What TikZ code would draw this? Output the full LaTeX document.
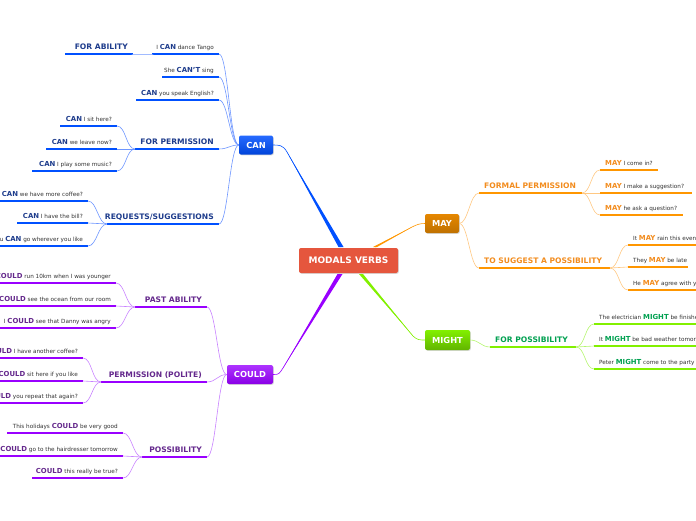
\documentclass[tikz,border=0pt]{standalone}
\usepackage{fontspec}
\setmainfont{DejaVu Sans}
\usetikzlibrary{shadows,calc}
\definecolor{cmain}{RGB}{229,86,61}
\definecolor{ccan}{RGB}{0,80,255}
\definecolor{ccanl}{RGB}{110,150,255}
\definecolor{ccant}{RGB}{30,60,140}
\definecolor{ccould}{RGB}{153,0,255}
\definecolor{ccouldl}{RGB}{200,130,255}
\definecolor{ccouldt}{RGB}{100,40,140}
\definecolor{cmay}{RGB}{255,150,0}
\definecolor{cmayl}{RGB}{255,200,130}
\definecolor{cmayt}{RGB}{242,140,30}
\definecolor{cmight}{RGB}{130,240,0}
\definecolor{cmightl}{RGB}{180,245,110}
\definecolor{cmightt}{RGB}{0,160,80}
\definecolor{ctxt}{RGB}{50,50,50}
\newcommand\kw[2]{{\fontsize{6.9}{8}\selectfont\bfseries\color{#1}#2}}

\begin{document}
\begin{tikzpicture}[x=1pt,y=-1pt,
  box/.style={rounded corners=2pt,inner sep=0pt,text=white,font=\fontsize{8.3}{10}\selectfont\bfseries,
    drop shadow={opacity=0.3,shadow xshift=0.8pt,shadow yshift=-0.8pt}},
  leaf/.style={inner sep=0pt,text=ctxt,font=\fontsize{5.7}{7}\selectfont},
  sub/.style={inner sep=0pt,font=\fontsize{7.6}{9}\selectfont\bfseries},
  und/.style={draw=#1,line width=2pt},
  subund/.style={draw=#1,line width=2.5pt},
  lnk/.style={draw=#1,line width=0.6pt},
]
\useasboundingbox (0,0) rectangle (696,520);
\clip (0,0) rectangle (696,520);

% ---------------- central topic and main branches ----------------
\node[box,fill=cmain,minimum width=99pt,minimum height=25pt,font=\fontsize{9}{11}\selectfont\bfseries] (mv) at (348.5,260.5) {MODALS VERBS};
\node[box,top color=ccan!85!white,bottom color=ccan!85!black,minimum width=34pt,minimum height=19pt] (can) at (256,145) {CAN};
\node[box,top color=cmay!90!black,bottom color=cmay!75!black,minimum width=34pt,minimum height=19pt] (may) at (442,223.5) {MAY};
\node[box,top color=cmight,bottom color=cmight!75!black,minimum width=45pt,minimum height=20pt] (might) at (447.5,340) {MIGHT};
\node[box,top color=ccould!80!white,bottom color=ccould!90!black,minimum width=46pt,minimum height=19pt] (could) at (250,374.5) {COULD};

% tapered links from the centre
\coordinate (mv-can) at (341,247);   \coordinate (can-k) at (287,152);
\coordinate (mv-could) at (340,274); \coordinate (could-k) at (283,368);
\coordinate (mv-may) at (375,247);   \coordinate (may-k) at (412,227);
\coordinate (mv-might) at (361,274); \coordinate (might-k) at (413,336);
\fill[ccan] ($(mv-can)+(-2.5,0)$) -- (can-k) -- ($(mv-can)+(2.5,0)$) -- cycle;
\draw[lnk=ccan] (mv-can) -- (can-k) .. controls +(-4,-7) and +(6,0) .. (can.east);
\fill[ccould] ($(mv-could)+(-2.5,0)$) -- (could-k) -- ($(mv-could)+(2.5,0)$) -- cycle;
\draw[lnk=ccould] (mv-could) -- (could-k) .. controls +(-4,6) and +(6,0) .. (could.east);
\fill[cmay] ($(mv-may)+(-2,0)$) -- (may-k) -- ($(mv-may)+(2,0)$) -- cycle;
\draw[lnk=cmay] (mv-may) -- (may-k) .. controls +(5,-2.5) and +(-5,0) .. (may.west);
\fill[cmight] ($(mv-might)+(-2,0)$) -- (might-k) -- ($(mv-might)+(2,0)$) -- cycle;
\draw[lnk=cmight] (mv-might) -- (might-k) .. controls +(4,4) and +(-5,0) .. (might.west);

% ---------------- subtopics ----------------
% left side: text set flush right
\foreach \n/\c/\k/\xa/\xb/\y/\t in {
  ab/ccan/ccant/65/133/54/{FOR ABILITY},
  per/ccan/ccant/135/219/149/{FOR PERMISSION},
  req/ccan/ccant/107/219/224/{REQUESTS/SUGGESTIONS},
  pa/ccould/ccouldt/135/207/307/{PAST ABILITY},
  pp/ccould/ccouldt/101/207/382/{PERMISSION (POLITE)},
  po/ccould/ccouldt/142/207/457/{POSSIBILITY}}{
  \draw[subund=\c] (\xa,\y) coordinate (\n-l) -- (\xb,\y) coordinate (\n-r);
  \node[sub,text=\k,anchor=base east] (\n) at (\xb-5,\y-5) {\t};
}
% right side: text set flush left
\foreach \n/\c/\k/\xa/\xb/\y/\t in {
  fp/cmay/cmayt/479/582/193/{FORMAL PERMISSION},
  sp/cmay/cmayt/479/610/268/{TO SUGGEST A POSSIBILITY},
  fo/cmight/cmightt/490/576/347/{FOR POSSIBILITY}}{
  \draw[subund=\c] (\xa,\y) coordinate (\n-l) -- (\xb,\y) coordinate (\n-r);
  \node[sub,text=\k,anchor=base west] (\n) at (\xa+5,\y-5) {\t};
}

% ---------------- example sentences ----------------
\foreach \n/\c/\xa/\xb/\y/\t in {
  a1/ccan/152/219/54/{I \kw{ccant}{CAN} dance Tango},
  a2/ccan/162/219/77/{She \kw{ccant}{CAN'T} sing},
  a3/ccan/136/219/100/{\kw{ccant}{CAN} you speak English?},
  p1/ccan/60/117/126/{\kw{ccant}{CAN} I sit here?},
  p2/ccan/46/117/149/{\kw{ccant}{CAN} we leave now?},
  p3/ccan/32/117/171/{\kw{ccant}{CAN} I play some music?},
  r1/ccan/-5/88/201/{\kw{ccant}{CAN} we have more coffee?},
  r2/ccan/17/88/223/{\kw{ccant}{CAN} I have the bill?},
  r3/ccan/-5/88/246/{You \kw{ccant}{CAN} go wherever you like},
  c1/ccould/-5/116/283/{I \kw{ccouldt}{COULD} run 10km when I was younger},
  c2/ccould/-5/116/306/{We \kw{ccouldt}{COULD} see the ocean from our room},
  c3/ccould/-5/116/328/{I \kw{ccouldt}{COULD} see that Danny was angry},
  d1/ccould/-5/83/358/{\kw{ccouldt}{COULD} I have another coffee?},
  d2/ccould/-5/83/381/{\kw{ccouldt}{COULD} sit here if you like},
  d3/ccould/-5/83/403/{\kw{ccouldt}{COULD} you repeat that again?},
  e1/ccould/7/123/433/{This holidays \kw{ccouldt}{COULD} be very good},
  e2/ccould/-5/123/456/{\kw{ccouldt}{COULD} go to the hairdresser tomorrow},
  e3/ccould/32/123/478/{\kw{ccouldt}{COULD} this really be true?}}{
  \draw[und=\c] (\xa,\y) coordinate (\n-l) -- (\xb,\y) coordinate (\n-r);
  \node[leaf,anchor=base east] (\n) at (\xb-5,\y-5) {\t};
}
\foreach \n/\c/\xa/\xb/\y/\t in {
  m1/cmay/600/658/170/{\kw{cmayt}{MAY} I come in?},
  m2/cmay/600/692/193/{\kw{cmayt}{MAY} I make a suggestion?},
  m3/cmay/600/683/215/{\kw{cmayt}{MAY} he ask a question?},
  n1/cmay/628/700/245/{It \kw{cmayt}{MAY} rain this evening},
  n2/cmay/628/688/267/{They \kw{cmayt}{MAY} be late},
  n3/cmay/628/700/290/{He \kw{cmayt}{MAY} agree with you},
  g1/cmight/594/700/324/{The electrician \kw{cmightt}{MIGHT} be finished},
  g2/cmight/594/700/346/{It \kw{cmightt}{MIGHT} be bad weather tomorrow},
  g3/cmight/594/700/369/{Peter \kw{cmightt}{MIGHT} come to the party}}{
  \draw[und=\c] (\xa,\y) coordinate (\n-l) -- (\xb,\y) coordinate (\n-r);
  \node[leaf,anchor=base west] (\n) at (\xa+5,\y-5) {\t};
}

% ---------------- connectors ----------------
\foreach \a/\b/\c in {can.west/a1-r/ccanl, can.west/a2-r/ccanl, can.west/a3-r/ccanl,
  can.west/per-r/ccanl, can.west/req-r/ccanl, ab-r/a1-l/ccanl,
  per-l/p1-r/ccanl, per-l/p2-r/ccanl, per-l/p3-r/ccanl,
  req-l/r1-r/ccanl, req-l/r2-r/ccanl, req-l/r3-r/ccanl,
  could.west/pa-r/ccouldl, could.west/pp-r/ccouldl, could.west/po-r/ccouldl,
  pa-l/c1-r/ccouldl, pa-l/c2-r/ccouldl, pa-l/c3-r/ccouldl,
  pp-l/d1-r/ccouldl, pp-l/d2-r/ccouldl, pp-l/d3-r/ccouldl,
  po-l/e1-r/ccouldl, po-l/e2-r/ccouldl, po-l/e3-r/ccouldl}
  \draw[lnk=\c] (\a) .. controls +(-9,0) and +(9,0) .. (\b);
\foreach \a/\b/\c in {may.east/fp-l/cmayl, may.east/sp-l/cmayl,
  fp-r/m1-l/cmayl, fp-r/m2-l/cmayl, fp-r/m3-l/cmayl,
  sp-r/n1-l/cmayl, sp-r/n2-l/cmayl, sp-r/n3-l/cmayl,
  might.east/fo-l/cmightl,
  fo-r/g1-l/cmightl, fo-r/g2-l/cmightl, fo-r/g3-l/cmightl}
  \draw[lnk=\c] (\a) .. controls +(9,0) and +(-9,0) .. (\b);
\end{tikzpicture}
\end{document}
